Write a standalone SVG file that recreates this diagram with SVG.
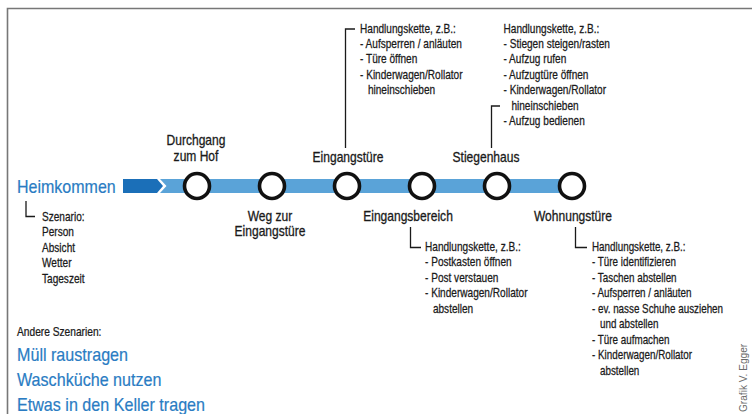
<svg xmlns="http://www.w3.org/2000/svg" width="752" height="414" viewBox="0 0 752 414">
<style>
.t{font-family:"Liberation Sans",Arial,sans-serif;font-size:12px;fill:#1a1a1a;stroke:#1a1a1a;stroke-width:0.25}
.n{font-family:"Liberation Sans",Arial,sans-serif;font-size:14px;fill:#1a1a1a;stroke:#1a1a1a;stroke-width:0.3;text-anchor:middle}
.b{font-family:"Liberation Sans",Arial,sans-serif;font-size:18px;fill:#2a7cc3;stroke:#2a7cc3;stroke-width:0.2}
.br{fill:none;stroke:#1a1a1a;stroke-width:1.3}
.c{fill:#fff;stroke:#111;stroke-width:3.6}
.cr{font-family:"Liberation Sans",Arial,sans-serif;font-size:11.5px;fill:#6a6a6a}
</style>
<rect width="752" height="414" fill="#fff"/>
<path d="M7.5 414 V8.5 H752" fill="none" stroke="#777" stroke-width="1.6"/>

<g id="connectors">
  <polygon points="123,179 157,179 163,186 157,193 123,193" fill="#1b6fb8"/>
  <polygon points="160,179 572,179 572,193 160,193 166.5,186" fill="#5aa3d8"/>
  <path class="br" d="M26 201 V216.5 H35"/>
  <path class="br" d="M355 29 H345.5 V148"/>
  <path class="br" d="M500 106 H491.5 V148"/>
  <path class="br" d="M410.5 227 V247.5 H421"/>
  <path class="br" d="M575.5 227 V247.5 H587"/>
</g>

<g id="start">
  <g transform="translate(17,192.5) scale(0.89,1)"><text class="b">Heimkommen</text></g>
</g>

<g id="szenario">
  <g transform="translate(42,221) scale(0.84,1)">
    <text class="t" y="0">Szenario:</text>
    <text class="t" y="15.5">Person</text>
    <text class="t" y="31">Absicht</text>
    <text class="t" y="46.5">Wetter</text>
    <text class="t" y="62">Tageszeit</text>
  </g>
</g>

<g id="node-durchgang">
  <circle class="c" cx="197" cy="186" r="12.5"/>
  <g transform="translate(196,145) scale(0.86,1)">
    <text class="n" y="0">Durchgang</text>
    <text class="n" y="16.5">zum Hof</text>
  </g>
</g>

<g id="node-weg">
  <circle class="c" cx="272" cy="186" r="12.5"/>
  <g transform="translate(270,221) scale(0.86,1)">
    <text class="n" y="0">Weg zur</text>
    <text class="n" y="15.5">Eingangstüre</text>
  </g>
</g>

<g id="node-eingangstuere">
  <circle class="c" cx="347" cy="186" r="12.5"/>
  <g transform="translate(348,162) scale(0.86,1)"><text class="n">Eingangstüre</text></g>
  <g transform="translate(360,32.5) scale(0.84,1)">
    <text class="t" y="0">Handlungskette, z.B.:</text>
    <text class="t" y="15.5">- Aufsperren / anläuten</text>
    <text class="t" y="31">- Türe öffnen</text>
    <text class="t" y="46.5">- Kinderwagen/Rollator</text>
    <text class="t" x="9.4" y="62">hineinschieben</text>
  </g>
</g>

<g id="node-eingangsbereich">
  <circle class="c" cx="422" cy="186" r="12.5"/>
  <g transform="translate(408,221) scale(0.86,1)"><text class="n">Eingangsbereich</text></g>
  <g transform="translate(425,251) scale(0.84,1)">
    <text class="t" y="0">Handlungskette, z.B.:</text>
    <text class="t" y="15.5">- Postkasten öffnen</text>
    <text class="t" y="31">- Post verstauen</text>
    <text class="t" y="46.5">- Kinderwagen/Rollator</text>
    <text class="t" x="9.4" y="62">abstellen</text>
  </g>
</g>

<g id="node-stiegenhaus">
  <circle class="c" cx="497" cy="186" r="12.5"/>
  <g transform="translate(486,162) scale(0.86,1)"><text class="n">Stiegenhaus</text></g>
  <g transform="translate(503.5,32.5) scale(0.84,1)">
    <text class="t" y="0">Handlungskette, z.B.:</text>
    <text class="t" y="15.5">- Stiegen steigen/rasten</text>
    <text class="t" y="31">- Aufzug rufen</text>
    <text class="t" y="46.5">- Aufzugtüre öffnen</text>
    <text class="t" y="62">- Kinderwagen/Rollator</text>
    <text class="t" x="9.4" y="77.5">hineinschieben</text>
    <text class="t" y="93">- Aufzug bedienen</text>
  </g>
</g>

<g id="node-wohnungstuere">
  <circle class="c" cx="572" cy="186" r="12.5"/>
  <g transform="translate(573,221) scale(0.86,1)"><text class="n">Wohnungstüre</text></g>
  <g transform="translate(592,251) scale(0.82,1)">
    <text class="t" y="0">Handlungskette, z.B.:</text>
    <text class="t" y="15.5">- Türe identifizieren</text>
    <text class="t" y="31">- Taschen abstellen</text>
    <text class="t" y="46.5">- Aufsperren / anläuten</text>
    <text class="t" y="62">- ev. nasse Schuhe ausziehen</text>
    <text class="t" x="9.7" y="77.5">und abstellen</text>
    <text class="t" y="93">- Türe aufmachen</text>
    <text class="t" y="108.5">- Kinderwagen/Rollator</text>
    <text class="t" x="9.7" y="124">abstellen</text>
  </g>
</g>

<g id="andere">
  <g transform="translate(17,336) scale(0.85,1)"><text class="t">Andere Szenarien:</text></g>
  <g transform="translate(17,0) scale(0.895,1)">
    <text class="b" y="361">Müll raustragen</text>
    <text class="b" y="386">Waschküche nutzen</text>
    <text class="b" y="411">Etwas in den Keller tragen</text>
  </g>
</g>

<g id="credit">
  <g transform="translate(747,412) rotate(-90) scale(0.88,1)"><text class="cr">Grafik V. Egger</text></g>
</g>
</svg>
